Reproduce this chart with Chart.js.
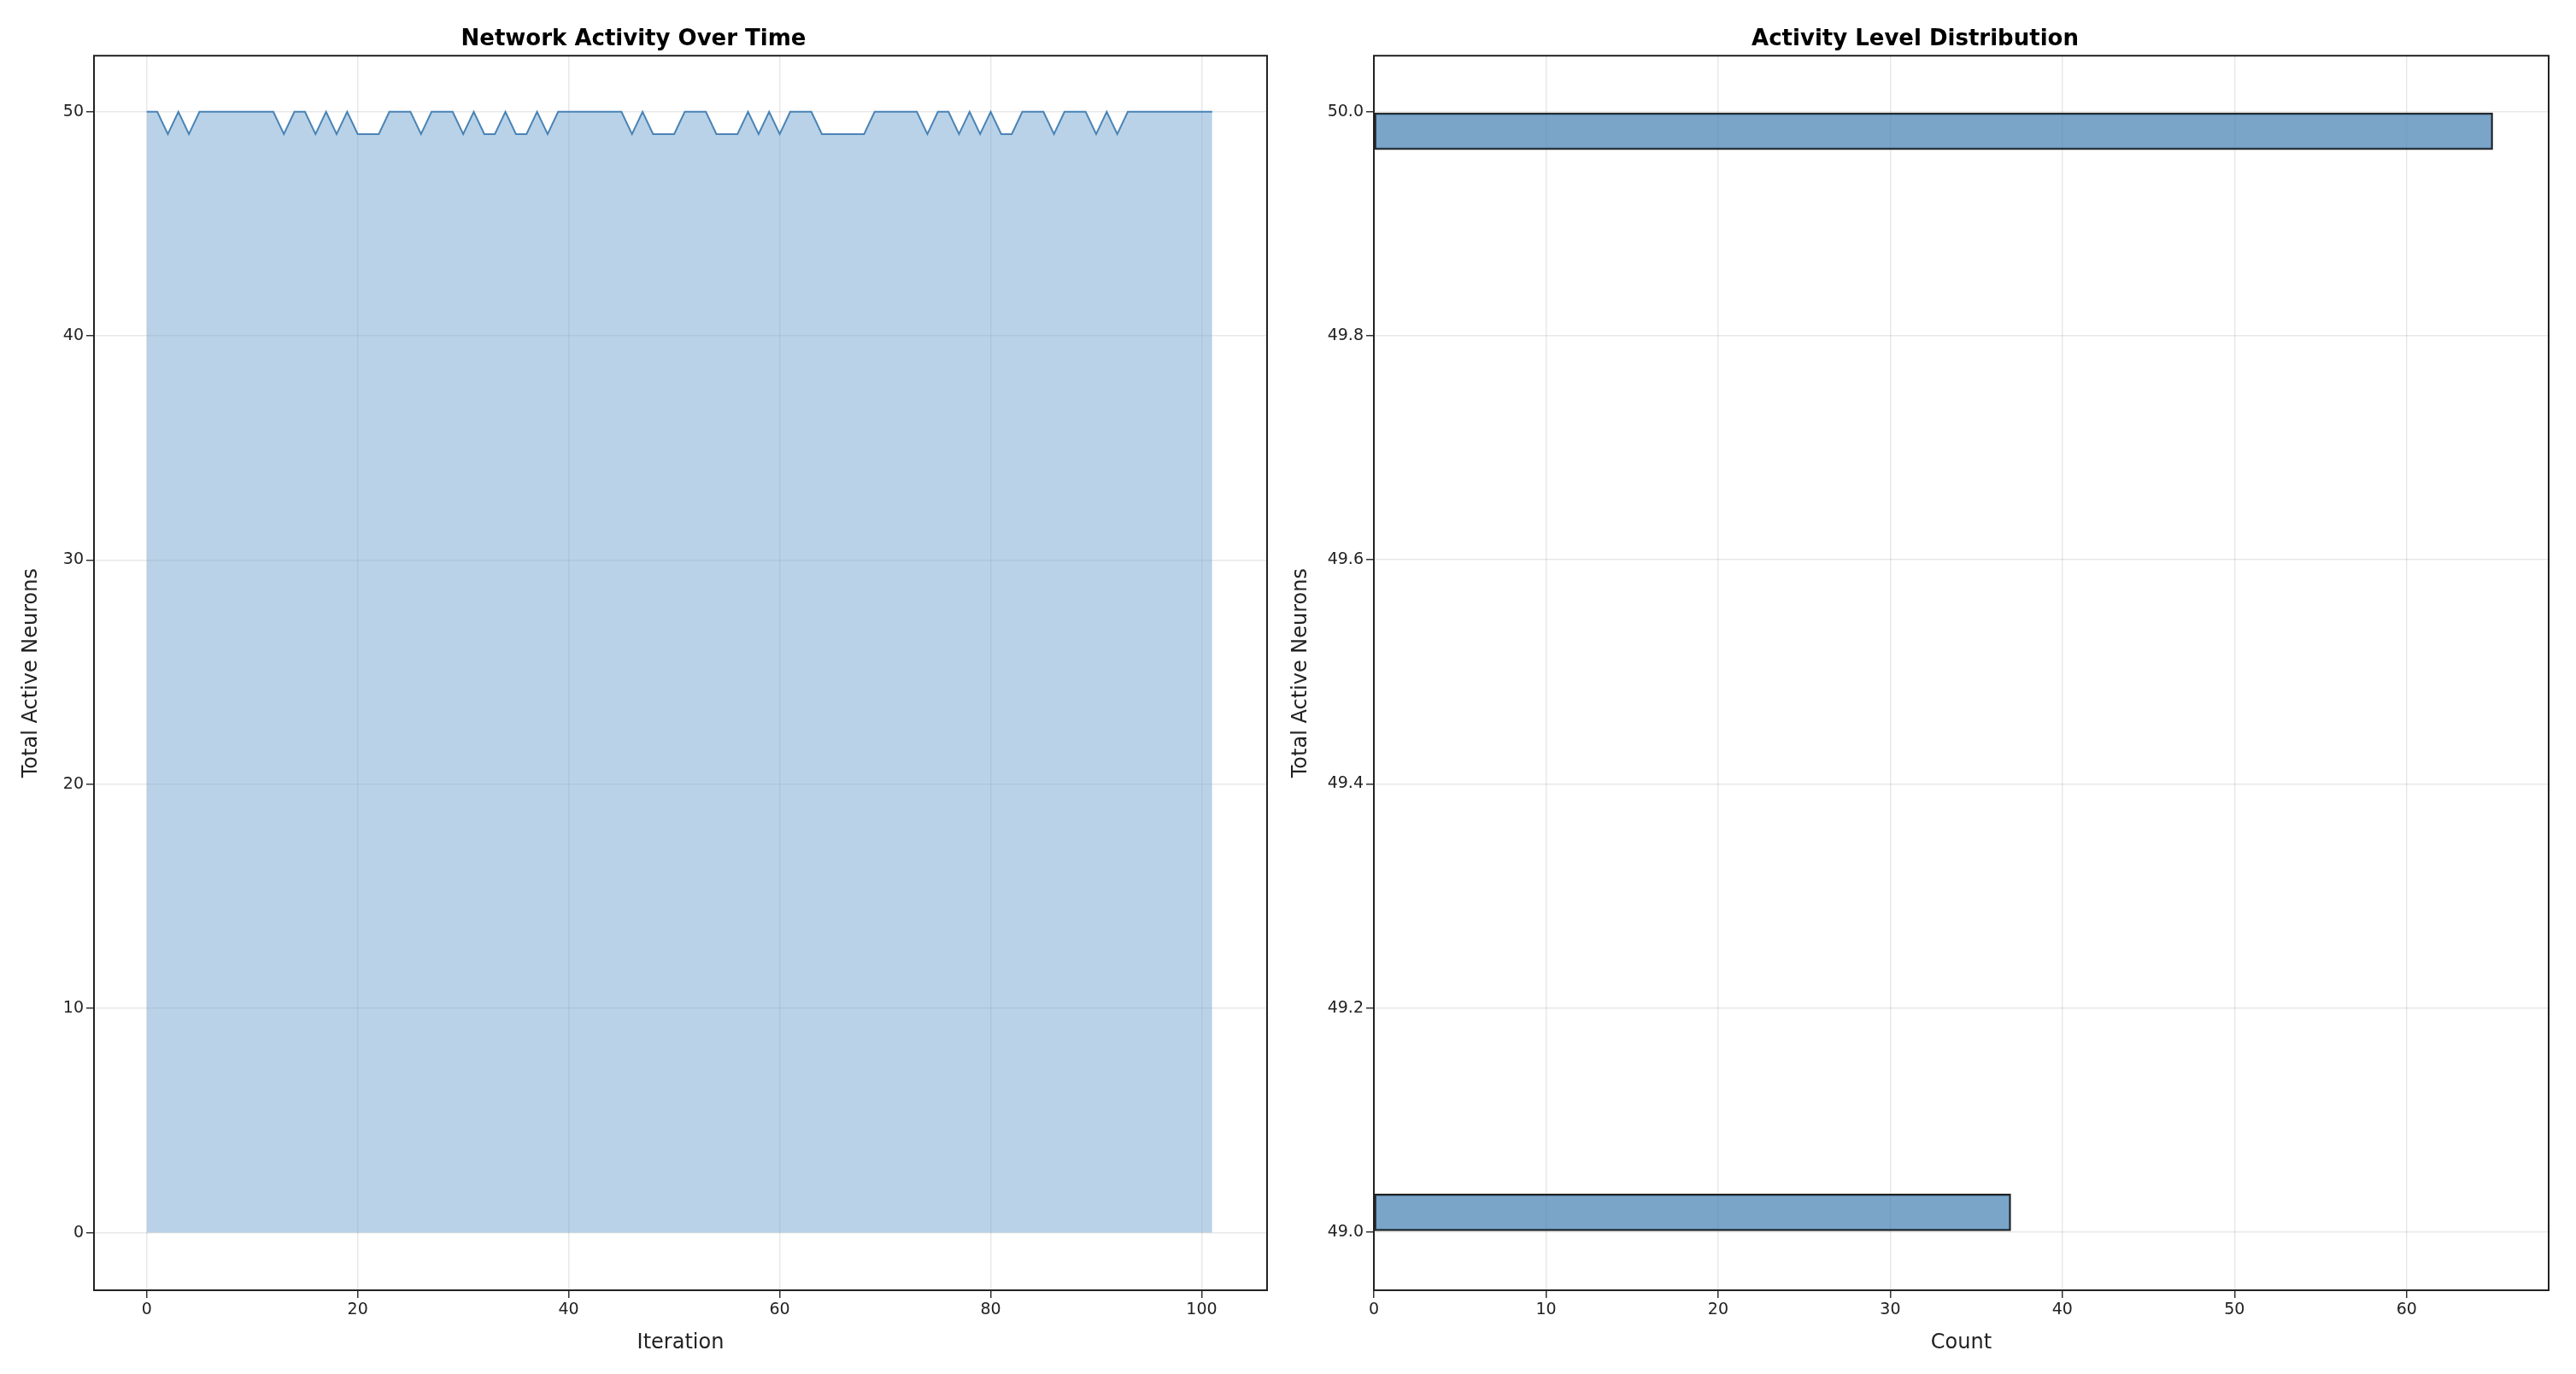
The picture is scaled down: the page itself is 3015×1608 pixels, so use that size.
<!DOCTYPE html>
<html><head><meta charset="utf-8">
<script src="https://cdn.jsdelivr.net/npm/chart.js@4/dist/chart.umd.min.js"></script>
<style>body{margin:0;background:#fff;width:3015px;height:1608px;overflow:hidden;position:relative}
canvas{position:absolute;top:0}</style></head><body>
<div style="position:absolute;left:0;top:0;width:1500px;height:1608px"><canvas id="c1"></canvas></div>
<div style="position:absolute;left:1500px;top:0;width:1515px;height:1608px"><canvas id="c2"></canvas></div>
<script>
const iterations = Array.from({length:102},(_,i)=>i);
const activity = [50,50,49,50,49,50,50,50,50,50,50,50,50,49,50,50,49,50,49,50,
49,49,49,50,50,50,49,50,50,50,49,50,49,49,50,49,49,50,49,50,
50,50,50,50,50,50,49,50,49,49,49,50,50,50,49,49,49,50,49,50,
49,50,50,50,49,49,49,49,49,50,50,50,50,50,49,50,50,49,50,49,
50,49,49,50,50,50,49,50,50,50,49,50,49,50,50,50,50,50,50,50,50,50];
const histLevels = [49.9825, 49.0175];
const histCounts = [65, 37];
const leftXTicks = [0,20,40,60,80,100];
const leftYTicks = [0,10,20,30,40,50];
const rightXTicks = [0,10,20,30,40,50,60];
const rightYTicks = [49.0,49.2,49.4,49.6,49.8,50.0];

const F='DejaVu Sans';
const grid={color:'rgba(0,0,0,0.09)',lineWidth:1.5,tickLength:9,tickColor:'#333',drawTicks:true,offset:false};
const tk={color:'#222',font:{family:F,size:19}};
const frame={id:'frame',afterDraw(c){const a=c.chartArea,x=c.ctx;x.save();x.strokeStyle='#222';x.lineWidth=2;x.strokeRect(a.left,a.top,a.right-a.left,a.bottom-a.top);x.restore();}};
function only(list){return s=>{s.ticks=list.map(v=>({value:v}));};}
const title=t=>({display:true,text:t,color:'#000',font:{family:F,size:26,weight:'bold'},padding:{top:31,bottom:3}});
const xTitle=t=>({display:true,text:t,color:'#222',font:{family:F,size:24},padding:{top:0,bottom:22}});
const yTitle=(t,p)=>({display:true,text:t,color:'#222',font:{family:F,size:24},padding:{top:p,bottom:0}});

new Chart(document.getElementById('c1'),{type:'line',
data:{labels:iterations,datasets:[{data:activity.map((v,i)=>({x:iterations[i],y:v})),borderColor:'#4a84b6',borderWidth:2,backgroundColor:'rgba(116,166,208,0.5)',fill:'origin',pointRadius:0,tension:0}]},
options:{responsive:true,maintainAspectRatio:false,animation:false,layout:{padding:{right:17,left:0}},
plugins:{legend:{display:false},tooltip:{enabled:false},title:title('Network Activity Over Time')},
scales:{x:{type:'linear',min:-5,max:106.2,afterBuildTicks:only(leftXTicks),afterFit(s){s.height=98},grid,border:{display:false},ticks:tk,title:xTitle('Iteration')},
y:{min:-2.57,max:52.5,afterBuildTicks:only(leftYTicks),afterFit(s){s.width=110},grid,border:{display:false},ticks:tk,title:yTitle('Total Active Neurons',22)}}},
plugins:[frame]});

new Chart(document.getElementById('c2'),{type:'bar',
data:{datasets:[{data:histLevels.map((v,i)=>({y:v,x:histCounts[i]})),backgroundColor:'rgba(70,130,180,0.72)',borderColor:'#222',borderWidth:2,barThickness:43,borderSkipped:false}]},
options:{indexAxis:'y',responsive:true,maintainAspectRatio:false,animation:false,layout:{padding:{right:32}},
plugins:{legend:{display:false},tooltip:{enabled:false},title:title('Activity Level Distribution')},
scales:{x:{type:'linear',min:0,max:68.25,offset:false,afterBuildTicks:only(rightXTicks),afterFit(s){s.height=98},grid,border:{display:false},ticks:tk,title:xTitle('Count')},
y:{type:'linear',min:48.948,max:50.05,offset:false,afterBuildTicks:only(rightYTicks),afterFit(s){s.width=108},grid,border:{display:false},ticks:{...tk,callback:v=>v.toFixed(1)},title:yTitle('Total Active Neurons',8)}}},
plugins:[frame]});
</script></body></html>
